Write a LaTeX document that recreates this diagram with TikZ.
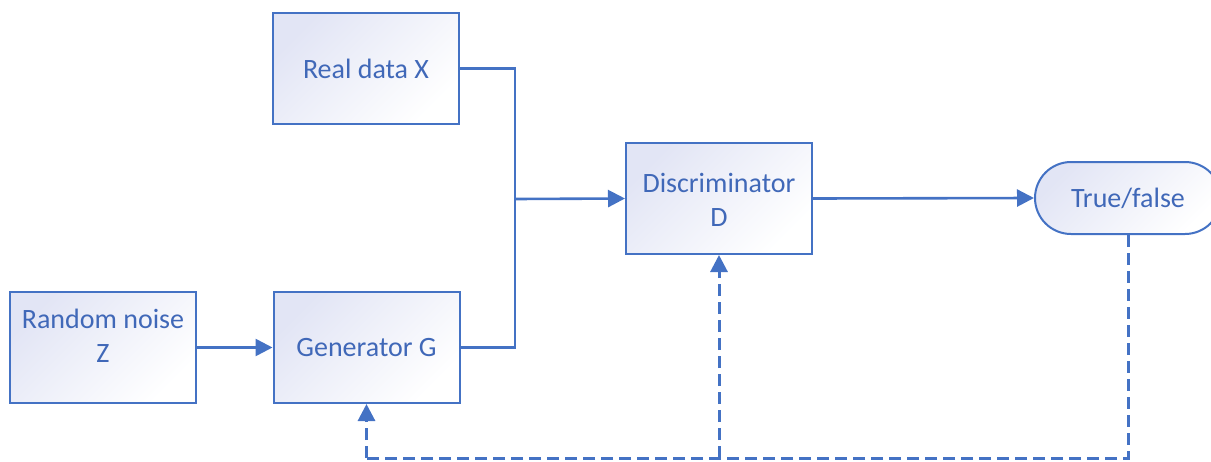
\documentclass[tikz,border=0pt]{standalone}
\usepackage{fontspec}
\setmainfont{Carlito}
\usetikzlibrary{arrows.meta,shapes.misc,calc}
\definecolor{officeblue}{RGB}{68,114,196}
\definecolor{textblue}{RGB}{64,104,184}
\definecolor{lavender}{RGB}{226,229,245}
\tikzset{
  gradfill/.style={shading=axis, top color=lavender, bottom color=white, shading angle=45},
  block/.style={draw=officeblue, line width=2pt, rectangle,
    minimum width=186pt, minimum height=111pt, inner sep=0pt, gradfill},
  endbox/.style={draw=officeblue, line width=2pt, rounded rectangle,
    minimum width=186pt, minimum height=72pt, inner sep=0pt, gradfill},
  lbl/.style={text=textblue, font=\fontsize{28}{34}\selectfont, align=center, inner sep=0pt},
  link/.style={draw=officeblue, line width=2.6pt},
  flow/.style={link, -{Triangle[length=17pt,width=17pt]}},
  feedback/.style={link, line width=3pt, dash pattern=on 12pt off 6pt},
  feedarrow/.style={feedback, -{Triangle[length=17pt,width=17pt]}}
}
\begin{document}
\begin{tikzpicture}[x=1pt,y=1pt]
\useasboundingbox (0,0) rectangle (1211,-461);

% blocks
\node[block] (real)  at (366,-68.5)  {};
\node[lbl] at (real.center) {Real data X};
\node[block] (disc)  at (719,-198.5) {};
\node[lbl] at (719,-200) {Discriminator\\D};
\node[block] (noise) at (103,-347.5) {};
\node[lbl] at (103,-336) {Random noise\\Z};
\node[block] (gen)   at (366.5,-347.5) {};
\node[lbl] at (gen.center) {Generator G};
\node[endbox] (tf)   at (1128,-198) {};
\node[lbl] at (tf.center) {True/false};

% forward path
\coordinate (join) at (515,-199);
\draw[link] (real.east) -| (join);
\draw[link] (gen.east) -| (join);
\draw[flow] (join) -- (disc.west);
\draw[flow] (noise.east) -- (gen.west);
\draw[flow] (disc.east) -- (tf.west);

% feedback path
\coordinate (fbR) at (1128,-458);
\coordinate (fbL) at (366.5,-458);
\coordinate (fbM) at (719,-458);
\draw[feedback] (tf.south) -- (fbR) -- (fbL);
\draw[feedarrow] (fbL) -- (gen.south);
\draw[feedarrow] (fbM) -- (disc.south);
\end{tikzpicture}
\end{document}
